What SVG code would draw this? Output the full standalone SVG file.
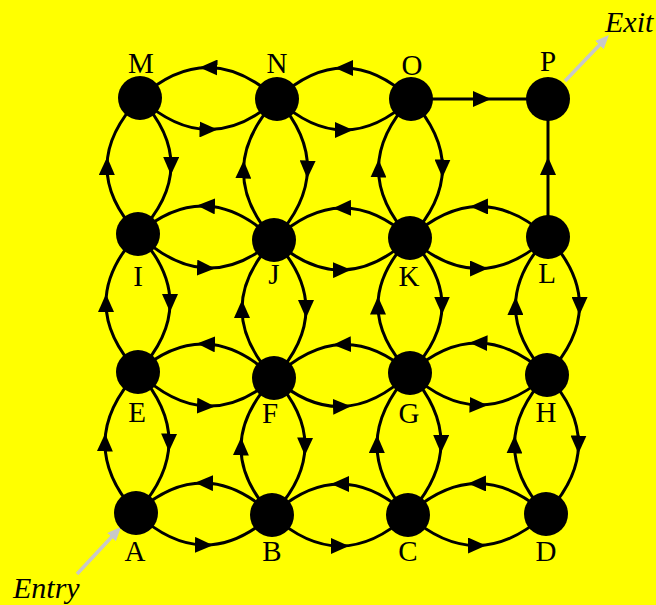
<svg xmlns="http://www.w3.org/2000/svg" width="656" height="605" viewBox="0 0 656 605">
<style>
.e{fill:none;stroke:#000;stroke-width:3;marker-mid:url(#ah)}
.g{fill:none;stroke:#c8c8c8;stroke-width:3.5;marker-end:url(#gh)}
.n circle{fill:#000}
.n text{font-family:"Liberation Serif","Times New Roman",serif;font-size:29px;text-anchor:middle;fill:#000}
.t{font-family:"Liberation Serif","Times New Roman",serif;font-size:30px;font-style:italic;fill:#000}
</style>
<defs>
<marker id="ah" viewBox="0 0 18 16" refX="9" refY="8" markerWidth="18" markerHeight="16" markerUnits="userSpaceOnUse" orient="auto">
<path d="M0,0 L18,8 L0,16 z" fill="#000"/>
</marker>
<marker id="gh" viewBox="0 0 14 12" refX="4" refY="6" markerWidth="14" markerHeight="12" markerUnits="userSpaceOnUse" orient="auto">
<path d="M0,0 L14,6 L0,12 z" fill="#c8c8c8"/>
</marker>
</defs>
<rect x="0" y="0" width="656" height="605" fill="#ffff00"/>
<g id="connectors">
<path class="e" d="M277,99 Q242.75,67.75 208.5,67.5 Q174.25,67.25 140,98"/>
<path class="e" d="M140,98 Q174.25,129.25 208.5,129.5 Q242.75,129.75 277,99"/>
<path class="e" d="M411,99 Q377.5,68 344,68 Q310.5,68 277,99"/>
<path class="e" d="M277,99 Q310.5,130 344,130 Q377.5,130 411,99"/>
<path class="e" d="M274,240 Q240,207.5 206,206 Q172,204.5 138,234"/>
<path class="e" d="M138,234 Q172,266.5 206,268 Q240,269.5 274,240"/>
<path class="e" d="M410,238 Q376,207.5 342,208 Q308,208.5 274,240"/>
<path class="e" d="M274,240 Q308,270.5 342,270 Q376,269.5 410,238"/>
<path class="e" d="M548,237 Q513.5,206.25 479,206.5 Q444.5,206.75 410,238"/>
<path class="e" d="M410,238 Q444.5,268.75 479,268.5 Q513.5,268.25 548,237"/>
<path class="e" d="M274,378 Q240,345.5 206,344 Q172,342.5 138,372"/>
<path class="e" d="M138,372 Q172,404.5 206,406 Q240,407.5 274,378"/>
<path class="e" d="M410,373 Q376,343.25 342,344.5 Q308,345.75 274,378"/>
<path class="e" d="M274,378 Q308,407.75 342,406.5 Q376,405.25 410,373"/>
<path class="e" d="M547,375 Q512.75,343.5 478.5,343 Q444.25,342.5 410,373"/>
<path class="e" d="M410,373 Q444.25,404.5 478.5,405 Q512.75,405.5 547,375"/>
<path class="e" d="M272,515 Q238,483.5 204,483 Q170,482.5 136,513"/>
<path class="e" d="M136,513 Q170,544.5 204,545 Q238,545.5 272,515"/>
<path class="e" d="M408,515 Q374,484 340,484 Q306,484 272,515"/>
<path class="e" d="M272,515 Q306,546 340,546 Q374,546 408,515"/>
<path class="e" d="M546,514 Q511.5,483.25 477,483.5 Q442.5,483.75 408,515"/>
<path class="e" d="M408,515 Q442.5,545.75 477,545.5 Q511.5,545.25 546,514"/>
<path class="e" d="M138,234 Q106.5,200 107,166 Q107.5,132 140,98"/>
<path class="e" d="M140,98 Q171.5,132 171,166 Q170.5,200 138,234"/>
<path class="e" d="M274,240 Q242.75,204.75 243.5,169.5 Q244.25,134.25 277,99"/>
<path class="e" d="M277,99 Q308.25,134.25 307.5,169.5 Q306.75,204.75 274,240"/>
<path class="e" d="M410,238 Q378.25,203.25 378.5,168.5 Q378.75,133.75 411,99"/>
<path class="e" d="M411,99 Q442.75,133.75 442.5,168.5 Q442.25,203.25 410,238"/>
<path class="e" d="M138,372 Q106,337.5 106,303 Q106,268.5 138,234"/>
<path class="e" d="M138,234 Q170,268.5 170,303 Q170,337.5 138,372"/>
<path class="e" d="M274,378 Q242,343.5 242,309 Q242,274.5 274,240"/>
<path class="e" d="M274,240 Q306,274.5 306,309 Q306,343.5 274,378"/>
<path class="e" d="M410,373 Q378,339.25 378,305.5 Q378,271.75 410,238"/>
<path class="e" d="M410,238 Q442,271.75 442,305.5 Q442,339.25 410,373"/>
<path class="e" d="M547,375 Q515.25,340.5 515.5,306 Q515.75,271.5 548,237"/>
<path class="e" d="M548,237 Q579.75,271.5 579.5,306 Q579.25,340.5 547,375"/>
<path class="e" d="M136,513 Q104.5,477.75 105,442.5 Q105.5,407.25 138,372"/>
<path class="e" d="M138,372 Q169.5,407.25 169,442.5 Q168.5,477.75 136,513"/>
<path class="e" d="M272,515 Q240.5,480.75 241,446.5 Q241.5,412.25 274,378"/>
<path class="e" d="M274,378 Q305.5,412.25 305,446.5 Q304.5,480.75 272,515"/>
<path class="e" d="M408,515 Q376.5,479.5 377,444 Q377.5,408.5 410,373"/>
<path class="e" d="M410,373 Q441.5,408.5 441,444 Q440.5,479.5 408,515"/>
<path class="e" d="M546,514 Q514.25,479.25 514.5,444.5 Q514.75,409.75 547,375"/>
<path class="e" d="M547,375 Q578.75,409.75 578.5,444.5 Q578.25,479.25 546,514"/>
<path class="e" d="M411,99 L482,99 L548,99"/>
<path class="e" d="M548,237 L548,166 L548,99"/>
<path class="g" d="M77,574 L114.2,534.3"/>
<path class="g" d="M565,81 L602.1,42.2"/>
</g>
<g id="node-M" class="n"><circle cx="140" cy="98" r="22"/><text x="141" y="73">M</text></g>
<g id="node-N" class="n"><circle cx="277" cy="99" r="22"/><text x="277" y="73">N</text></g>
<g id="node-O" class="n"><circle cx="411" cy="99" r="22"/><text x="412" y="75">O</text></g>
<g id="node-P" class="n"><circle cx="548" cy="99" r="22"/><text x="548" y="71">P</text></g>
<g id="node-I" class="n"><circle cx="138" cy="234" r="22"/><text x="138" y="286">I</text></g>
<g id="node-J" class="n"><circle cx="274" cy="240" r="22"/><text x="274" y="284">J</text></g>
<g id="node-K" class="n"><circle cx="410" cy="238" r="22"/><text x="409" y="286">K</text></g>
<g id="node-L" class="n"><circle cx="548" cy="237" r="22"/><text x="547" y="283">L</text></g>
<g id="node-E" class="n"><circle cx="138" cy="372" r="22"/><text x="137" y="422">E</text></g>
<g id="node-F" class="n"><circle cx="274" cy="378" r="22"/><text x="270" y="423">F</text></g>
<g id="node-G" class="n"><circle cx="410" cy="373" r="22"/><text x="409" y="423">G</text></g>
<g id="node-H" class="n"><circle cx="547" cy="375" r="22"/><text x="546" y="422">H</text></g>
<g id="node-A" class="n"><circle cx="136" cy="513" r="22"/><text x="135" y="561">A</text></g>
<g id="node-B" class="n"><circle cx="272" cy="515" r="22"/><text x="272" y="561">B</text></g>
<g id="node-C" class="n"><circle cx="408" cy="515" r="22"/><text x="408" y="561">C</text></g>
<g id="node-D" class="n"><circle cx="546" cy="514" r="22"/><text x="546" y="561">D</text></g>
<text class="t" x="13" y="598">Entry</text>
<text class="t" x="605" y="32">Exit</text>
</svg>
